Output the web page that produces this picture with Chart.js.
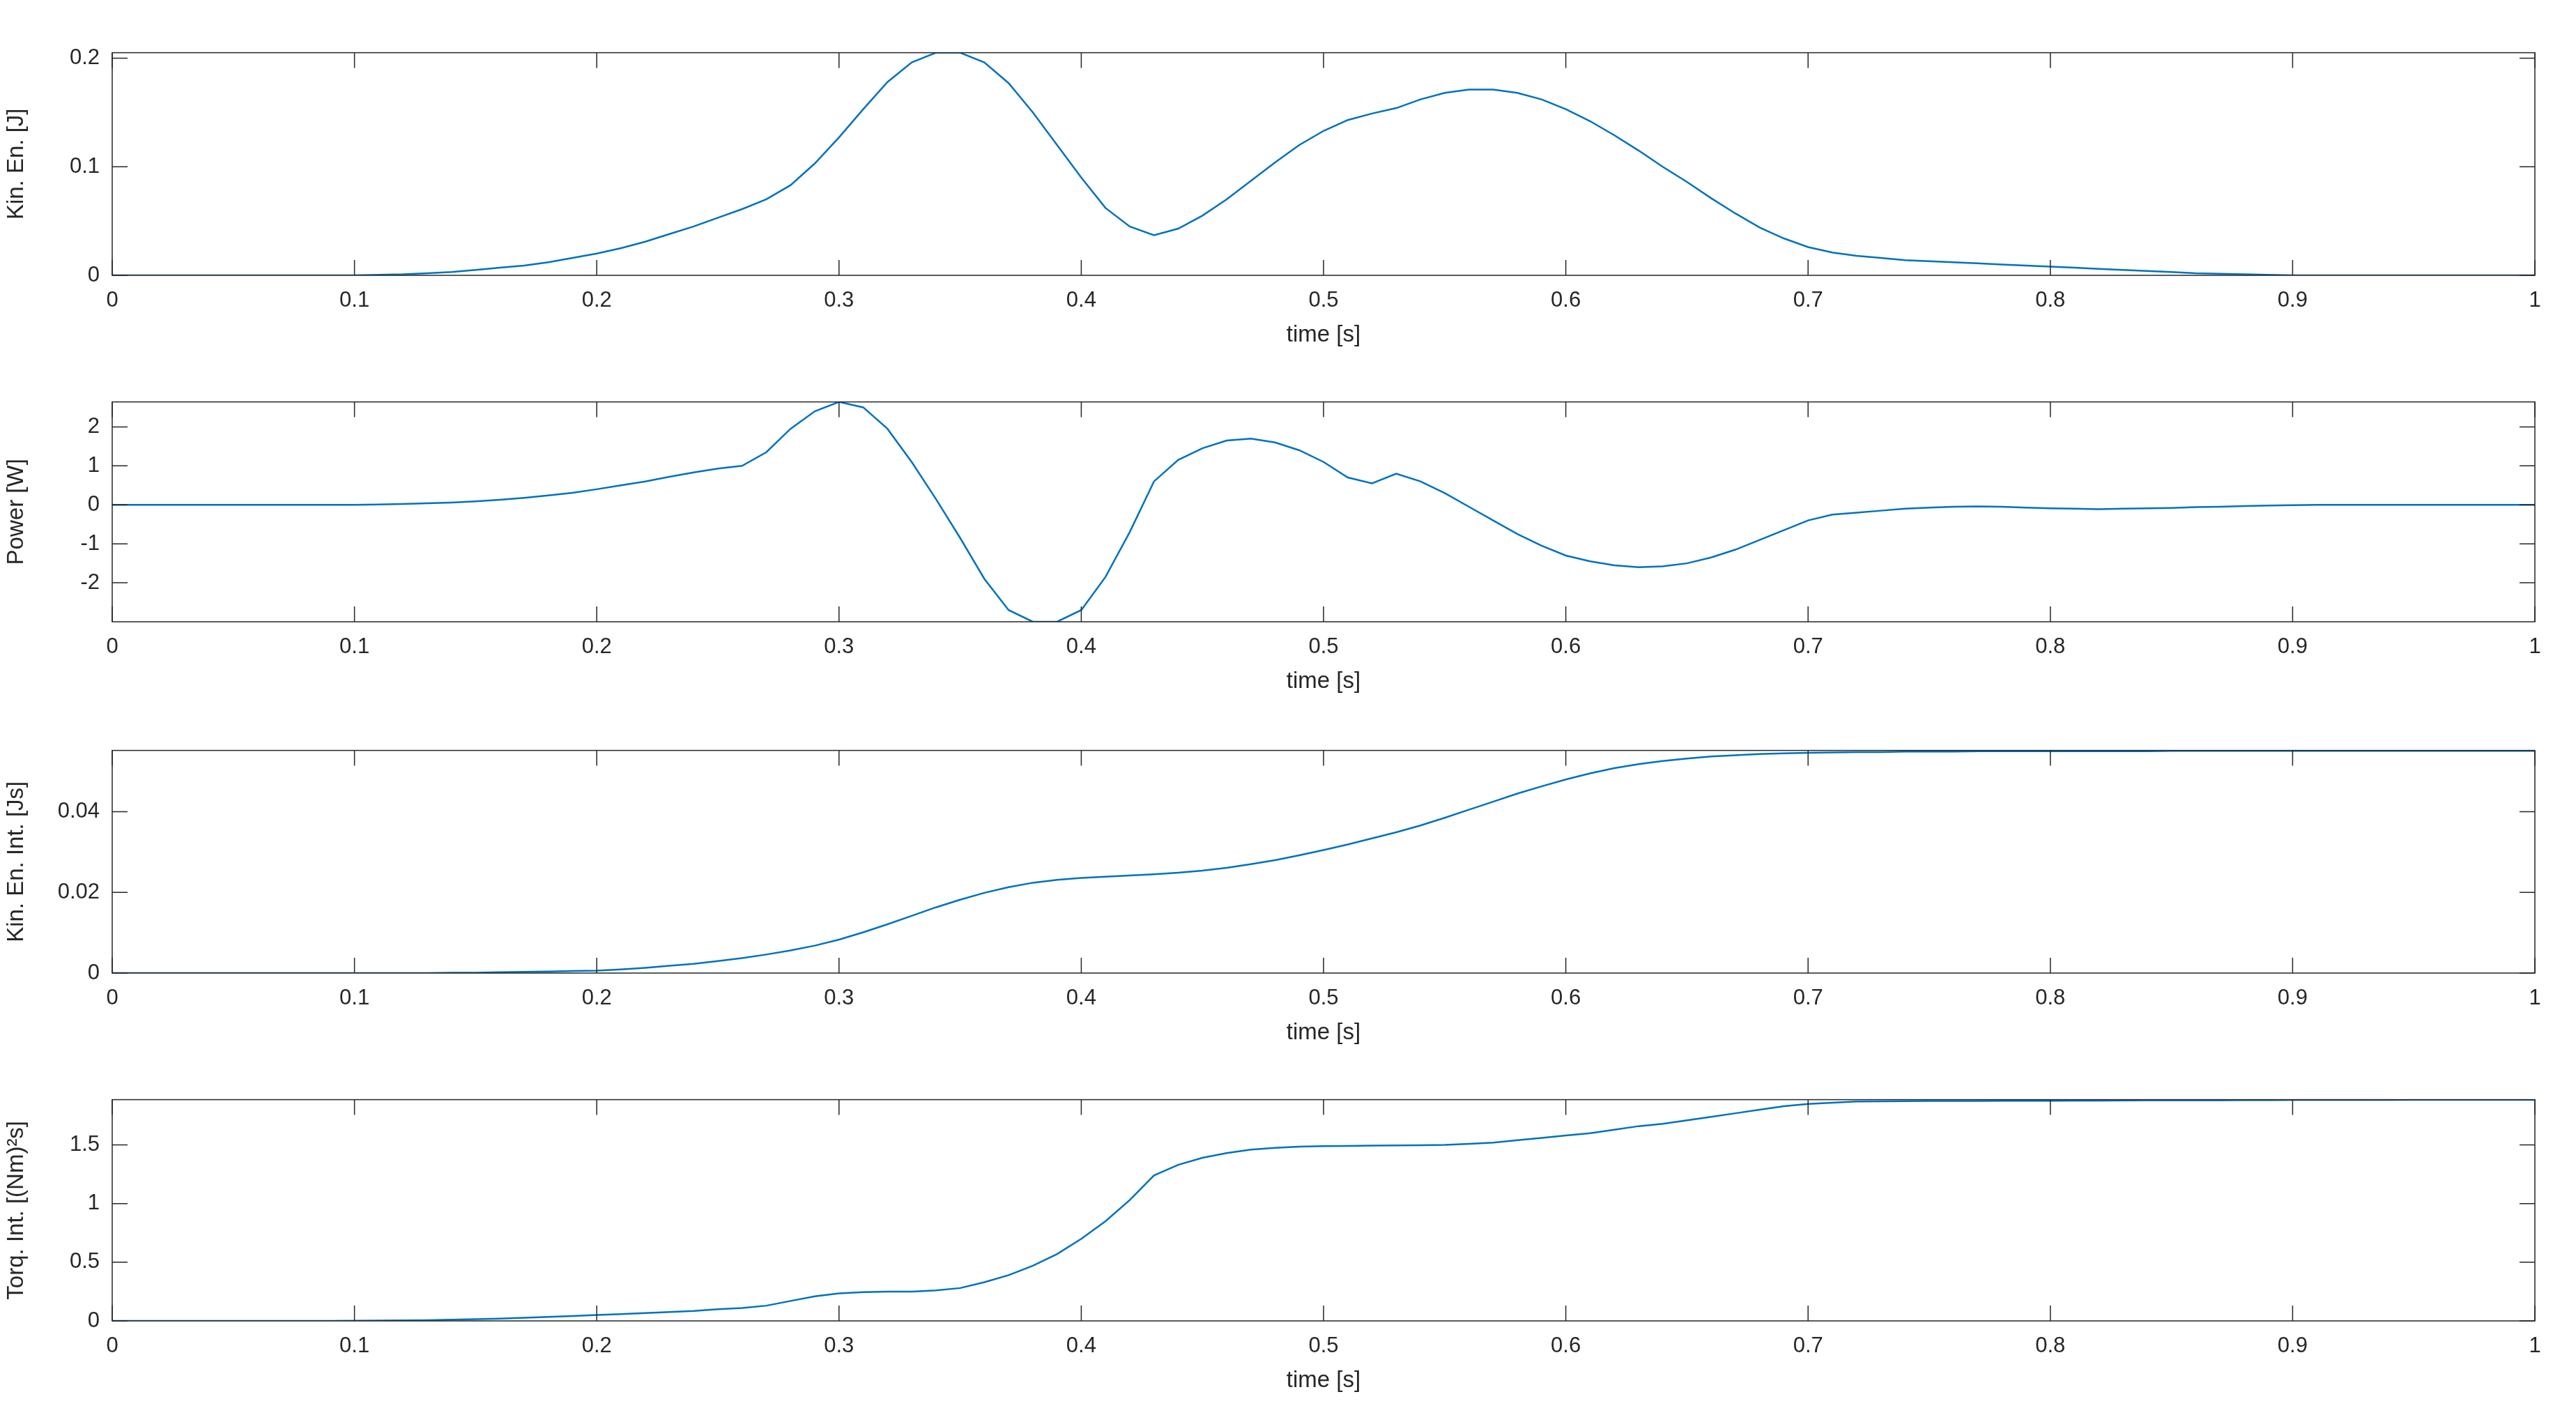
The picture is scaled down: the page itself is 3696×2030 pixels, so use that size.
<!DOCTYPE html>
<html>
<head>
<meta charset="utf-8">
<script src="https://cdn.jsdelivr.net/npm/chart.js@4"></script>
<style>
  body { margin: 0; background: #fff; width: 3696px; height: 2030px; position: relative; overflow: hidden; }
  .panel { position: absolute; left: 0; width: 3696px; }
</style>
</head>
<body>
<div class="panel" style="top:47px;height:458px"><canvas id="c1"></canvas></div>
<div class="panel" style="top:548px;height:454px"><canvas id="c2"></canvas></div>
<div class="panel" style="top:1048px;height:458px"><canvas id="c3"></canvas></div>
<div class="panel" style="top:1549px;height:456px"><canvas id="c4"></canvas></div>
<script>
// time axis, 0..1 s in 0.01 steps
const time = Array.from({ length: 101 }, (_, i) => +(i / 100).toFixed(2));
const xTicks = [0, 0.1, 0.2, 0.3, 0.4, 0.5, 0.6, 0.7, 0.8, 0.9, 1];

const kinEn = [
  0, 0, 0, 0, 0, 0, 0, 0, 0, 0,
  0, 0.0005, 0.001, 0.002, 0.003, 0.005, 0.007, 0.009, 0.012, 0.016,
  0.02, 0.025, 0.031, 0.038, 0.045, 0.053, 0.061, 0.07, 0.083, 0.103,
  0.127, 0.153, 0.178, 0.196, 0.205, 0.205, 0.196, 0.177, 0.15, 0.12,
  0.09, 0.062, 0.045, 0.037, 0.043, 0.055, 0.07, 0.087, 0.104, 0.12,
  0.133, 0.143, 0.149, 0.154, 0.162, 0.168, 0.171, 0.171, 0.168, 0.162,
  0.153, 0.142, 0.129, 0.115, 0.1, 0.086, 0.071, 0.057, 0.044, 0.034,
  0.026, 0.021, 0.018, 0.016, 0.014, 0.013, 0.012, 0.011, 0.01, 0.009,
  0.008, 0.007, 0.006, 0.005, 0.004, 0.003, 0.002, 0.0015, 0.001, 0.0005,
  0, 0, 0, 0, 0, 0, 0, 0, 0, 0, 0
];

const power = [
  0, 0, 0, 0, 0, 0, 0, 0, 0, 0,
  0, 0.01, 0.02, 0.04, 0.06, 0.09, 0.13, 0.18, 0.24, 0.31,
  0.4, 0.5, 0.6, 0.72, 0.83, 0.93, 1.0, 1.35, 1.95, 2.4,
  2.64, 2.5, 1.95, 1.1, 0.15, -0.85, -1.9, -2.7, -3.0, -3.0,
  -2.7, -1.85, -0.7, 0.6, 1.15, 1.45, 1.65, 1.7, 1.6, 1.4,
  1.1, 0.7, 0.55, 0.8, 0.6, 0.3, -0.05, -0.4, -0.75, -1.05,
  -1.3, -1.45, -1.55, -1.6, -1.58, -1.5, -1.35, -1.15, -0.9, -0.65,
  -0.4, -0.25, -0.2, -0.15, -0.1, -0.07, -0.05, -0.04, -0.05, -0.07,
  -0.09, -0.1, -0.11, -0.1, -0.09, -0.08, -0.06, -0.05, -0.03, -0.02,
  -0.01, 0, 0, 0, 0, 0, 0, 0, 0, 0, 0
];

const kinEnInt = [
  0, 0, 0, 0, 0, 0, 0, 0, 0, 0,
  0, 0, 0, 0, 0.0001, 0.0001, 0.0002, 0.0003, 0.0004, 0.0005,
  0.0006, 0.0009, 0.0013, 0.0018, 0.0023, 0.003, 0.0037, 0.0046, 0.0056, 0.0068,
  0.0083, 0.0101, 0.0121, 0.0142, 0.0163, 0.0182, 0.0199, 0.0213, 0.0224, 0.0231,
  0.0236, 0.0239, 0.0242, 0.0245, 0.0249, 0.0254, 0.0261, 0.027, 0.028, 0.0292,
  0.0305, 0.0319, 0.0334, 0.0349, 0.0366, 0.0385, 0.0405, 0.0425, 0.0445, 0.0463,
  0.048, 0.0495, 0.0508, 0.0518, 0.0526, 0.0532, 0.0537, 0.054, 0.0543, 0.0545,
  0.0546, 0.0547, 0.0548, 0.0548, 0.0549, 0.0549, 0.0549, 0.055, 0.055, 0.055,
  0.055, 0.055, 0.055, 0.055, 0.055, 0.0551, 0.0551, 0.0551, 0.0551, 0.0551,
  0.0551, 0.0551, 0.0551, 0.0551, 0.0551, 0.0551, 0.0551, 0.0551, 0.0551, 0.0551, 0.0551
];

const torqInt = [
  0, 0, 0, 0, 0, 0, 0, 0, 0, 0,
  0.002, 0.003, 0.004, 0.006, 0.01, 0.015, 0.02, 0.027, 0.034, 0.042,
  0.05, 0.058, 0.067, 0.076, 0.085, 0.1, 0.11, 0.13, 0.17, 0.21,
  0.235, 0.245, 0.25, 0.25, 0.26, 0.28, 0.33, 0.39, 0.47, 0.57,
  0.7, 0.85, 1.03, 1.24, 1.33, 1.39, 1.43, 1.46, 1.475, 1.485,
  1.49, 1.492, 1.494, 1.496, 1.498, 1.5, 1.51, 1.52, 1.54, 1.56,
  1.58, 1.6, 1.63, 1.66, 1.68, 1.71, 1.74, 1.77, 1.8, 1.83,
  1.85, 1.86, 1.87, 1.872, 1.873, 1.874, 1.875, 1.875, 1.876, 1.876,
  1.876, 1.877, 1.878, 1.879, 1.88, 1.88, 1.881, 1.881, 1.882, 1.882,
  1.883, 1.883, 1.884, 1.884, 1.884, 1.885, 1.885, 1.885, 1.885, 1.885, 1.885
];

const FONT = "'Liberation Sans', Arial, sans-serif";
const AXIS_COLOR = "#262626";

// MATLAB-style box with inward ticks
const boxPlugin = {
  id: "box",
  afterDraw(chart) {
    const { ctx, chartArea: a, scales } = chart;
    ctx.save();
    ctx.strokeStyle = AXIS_COLOR;
    ctx.lineWidth = 1.5;
    ctx.strokeRect(a.left, a.top, a.right - a.left, a.bottom - a.top);
    const len = 22;
    ctx.beginPath();
    scales.x.ticks.forEach(t => {
      const px = scales.x.getPixelForValue(t.value);
      ctx.moveTo(px, a.bottom); ctx.lineTo(px, a.bottom - len);
      ctx.moveTo(px, a.top); ctx.lineTo(px, a.top + len);
    });
    scales.y.ticks.forEach(t => {
      const py = scales.y.getPixelForValue(t.value);
      ctx.moveTo(a.left, py); ctx.lineTo(a.left + len, py);
      ctx.moveTo(a.right, py); ctx.lineTo(a.right - len, py);
    });
    ctx.stroke();
    ctx.restore();
  }
};

function makePanel(id, values, yLabel, yMin, yMax, yTicks) {
  new Chart(document.getElementById(id), {
    type: "line",
    data: {
      labels: time,
      datasets: [{
        data: values.map((v, i) => ({ x: time[i], y: v })),
        borderColor: "#0072BD",
        borderWidth: 2.5,
        pointRadius: 0,
        tension: 0,
        fill: false
      }]
    },
    options: {
      responsive: true,
      maintainAspectRatio: false,
      animation: false,
      layout: { padding: { top: 10, right: 59, left: 0, bottom: 0 } },
      plugins: { legend: { display: false }, tooltip: { enabled: false } },
      scales: {
        x: {
          type: "linear", min: 0, max: 1,
          afterBuildTicks: s => { s.ticks = xTicks.map(v => ({ value: v })); },
          afterFit: s => { s.height = 110; },
          grid: { display: false },
          border: { display: false },
          ticks: { color: AXIS_COLOR, font: { family: FONT, size: 31 }, padding: 10, maxRotation: 0,
                   callback: v => String(+v.toFixed(2)) },
          title: { display: true, text: "time [s]", color: AXIS_COLOR, font: { family: FONT, size: 33 }, padding: { top: 2 } }
        },
        y: {
          type: "linear", min: yMin, max: yMax,
          afterBuildTicks: s => { s.ticks = yTicks.map(v => ({ value: v })); },
          afterFit: s => { s.width = 161; },
          grid: { display: false },
          border: { display: false },
          ticks: { color: AXIS_COLOR, font: { family: FONT, size: 31 }, padding: 10,
                   callback: v => String(+v.toFixed(3)) },
          title: { display: true, text: yLabel, color: AXIS_COLOR, font: { family: FONT, size: 33 }, padding: { bottom: 4 } }
        }
      }
    },
    plugins: [boxPlugin]
  });
}

makePanel("c1", kinEn, "Kin. En. [J]", 0, 0.205, [0, 0.1, 0.2]);
makePanel("c2", power, "Power [W]", -3.0, 2.64, [-2, -1, 0, 1, 2]);
makePanel("c3", kinEnInt, "Kin. En. Int. [Js]", 0, 0.0552, [0, 0.02, 0.04]);
makePanel("c4", torqInt, "Torq. Int. [(Nm)²s]", 0, 1.886, [0, 0.5, 1, 1.5]);
</script>
</body>
</html>
